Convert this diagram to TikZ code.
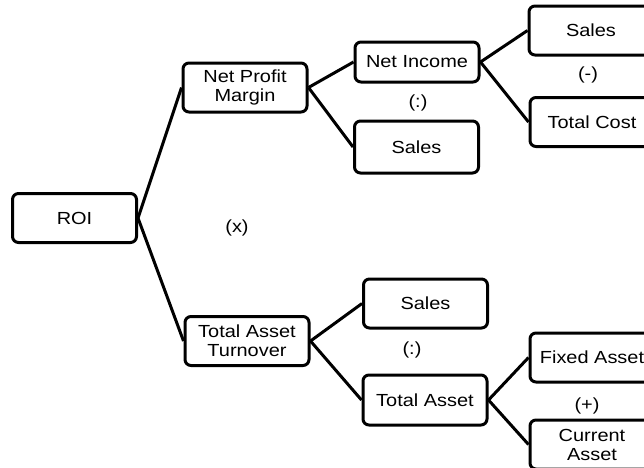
\documentclass[tikz,border=0pt]{standalone}
\usepackage{fontspec}
\setmainfont{Liberation Sans}[FakeStretch=1.14]
\begin{document}
\begin{tikzpicture}[x=1pt,y=-1pt,
    box/.style={draw,line width=3pt,rounded corners=6pt,minimum width=124pt,minimum height=49pt,align=center,inner sep=2pt,font=\fontsize{17.5}{19}\selectfont},
    op/.style={font=\fontsize{17.5}{19}\selectfont},
    link/.style={line width=3pt}]
    \useasboundingbox (0,0) rectangle (644,467);
    \clip (0,0) rectangle (644,467);
    \node[box] (roi) at (74.5,218) {ROI};
    \node[box] (npm) at (245,87.5) {Net Profit\\Margin};
    \node[box] (tat) at (247,341) {Total Asset\\Turnover};
    \node[box,minimum height=40pt] (ni) at (417,62) {Net Income};
    \node[box,minimum height=52pt] (salesa) at (416.5,147) {Sales};
    \node[box] (salesb) at (591,30.5) {Sales};
    \node[box] (tc) at (592,122) {Total Cost};
    \node[box] (salesc) at (425.5,303.5) {Sales};
    \node[box,minimum height=50pt] (ta) at (425,400) {Total Asset};
    \node[box] (fa) at (592,357.5) {Fixed Asset};
    \node[box] (ca) at (592,444.5) {Current\\Asset};
    \node[op] (mul) at (237,228) {(x)};
    \node[op] (diva) at (418,103) {(:)};
    \node[op] (sub) at (588,75) {(-)};
    \node[op] (divb) at (412,350) {(:)};
    \node[op] (add) at (587,406) {(+)};
    \draw[link] (roi.east) -- (npm.west);
    \draw[link] (roi.east) -- (tat.west);
    \draw[link] (npm.east) -- (ni.west);
    \draw[link] (npm.east) -- (salesa.west);
    \draw[link] (ni.east) -- (salesb.west);
    \draw[link] (ni.east) -- (tc.west);
    \draw[link] (tat.east) -- (salesc.west);
    \draw[link] (tat.east) -- (ta.west);
    \draw[link] (ta.east) -- (fa.west);
    \draw[link] (ta.east) -- (ca.west);
\end{tikzpicture}
\end{document}
